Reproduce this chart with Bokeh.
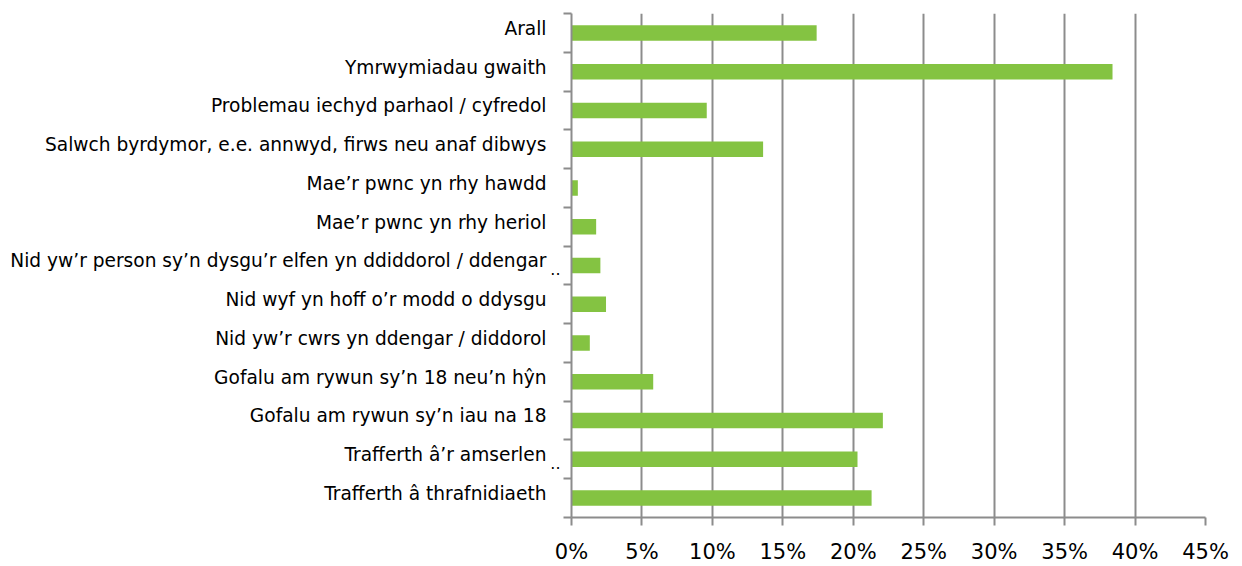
from bokeh.plotting import figure
from bokeh.models import FixedTicker, Range1d, LinearAxis
from bokeh.embed import file_html
from bokeh.resources import INLINE

categories = [
    "Trafferth â thrafnidiaeth",
    "Trafferth â’r amserlen",
    "Gofalu am rywun sy’n iau na 18",
    "Gofalu am rywun sy’n 18 neu’n hŷn",
    "Nid yw’r cwrs yn ddengar / diddorol",
    "Nid wyf yn hoff o’r modd o ddysgu",
    "Nid yw’r person sy’n dysgu’r elfen yn ddiddorol / ddengar",
    "Mae’r pwnc yn rhy heriol",
    "Mae’r pwnc yn rhy hawdd",
    "Salwch byrdymor, e.e. annwyd, firws neu anaf dibwys",
    "Problemau iechyd parhaol / cyfredol",
    "Ymrwymiadau gwaith",
    "Arall",
]
values = [21.3, 20.3, 22.1, 5.8, 1.3, 2.45, 2.05, 1.75, 0.45, 13.6, 9.6, 38.4, 17.4]
x_ticks = [0, 5, 10, 15, 20, 25, 30, 35, 40, 45]
truncated = ["Nid yw’r person sy’n dysgu’r elfen yn ddiddorol / ddengar", "Trafferth â’r amserlen"]

n = len(categories)
centers = [i + 0.5 for i in range(n)]

p = figure(width=1242, height=566, output_backend="svg", toolbar_location=None,
           x_range=Range1d(0, 45), y_range=Range1d(0, n),
           min_border_left=571, min_border_right=37, min_border_top=13, min_border_bottom=30)
p.outline_line_color = None
p.background_fill_color = "white"

p.hbar(y=centers, right=values, left=0, height=0.4, fill_color="#84c342", line_color=None)

# x axis
p.xaxis.ticker = FixedTicker(ticks=x_ticks)
p.xaxis.major_label_overrides = {t: f"{t}%" for t in x_ticks}
p.xaxis.axis_line_color = "#8c8c8c"
p.xaxis.axis_line_width = 2
p.xaxis.major_tick_line_color = "#8c8c8c"
p.xaxis.major_tick_line_width = 2
p.xaxis.major_tick_out = 8
p.xaxis.major_tick_in = 0
p.xaxis.minor_tick_line_color = None
p.xaxis.major_label_text_font = "DejaVu Sans"
p.xaxis.major_label_text_font_size = "21px"
p.xaxis.major_label_text_color = "black"
p.xaxis.major_label_standoff = 14

# inner y axis: axis line, boundary ticks and the ".." overflow marks
mark_pos = [categories.index(lab) + 0.5 - 0.1 for lab in truncated]
ya = p.yaxis[0]
ya.ticker = FixedTicker(ticks=mark_pos, minor_ticks=list(range(n + 1)))
ya.major_label_overrides = {m: ".." for m in mark_pos}
ya.axis_line_color = "#8c8c8c"
ya.axis_line_width = 2
ya.major_tick_line_color = None
ya.major_tick_out = 0
ya.major_tick_in = 0
ya.minor_tick_line_color = "#8c8c8c"
ya.minor_tick_line_width = 2
ya.minor_tick_out = 8
ya.minor_tick_in = 0
ya.major_label_text_font = "DejaVu Sans"
ya.major_label_text_font_size = "16px"
ya.major_label_text_color = "black"
ya.major_label_standoff = 3

# outer y axis: category labels
label_pos = [c + 0.12 for c in centers]
yl = LinearAxis(ticker=FixedTicker(ticks=label_pos, minor_ticks=[]))
yl.major_label_overrides = {c: lab for c, lab in zip(label_pos, categories)}
yl.axis_line_color = None
yl.major_tick_line_color = None
yl.minor_tick_line_color = None
yl.major_tick_out = 0
yl.major_tick_in = 0
yl.major_label_text_font = "DejaVu Sans"
yl.major_label_text_font_size = "18.6px"
yl.major_label_text_color = "black"
yl.major_label_standoff = 1
p.add_layout(yl, "left")

p.xgrid.ticker = FixedTicker(ticks=x_ticks)
p.xgrid.grid_line_color = "#8c8c8c"
p.xgrid.grid_line_width = 2
p.ygrid.grid_line_color = None

open("out.html", "w").write(file_html(p, INLINE))
